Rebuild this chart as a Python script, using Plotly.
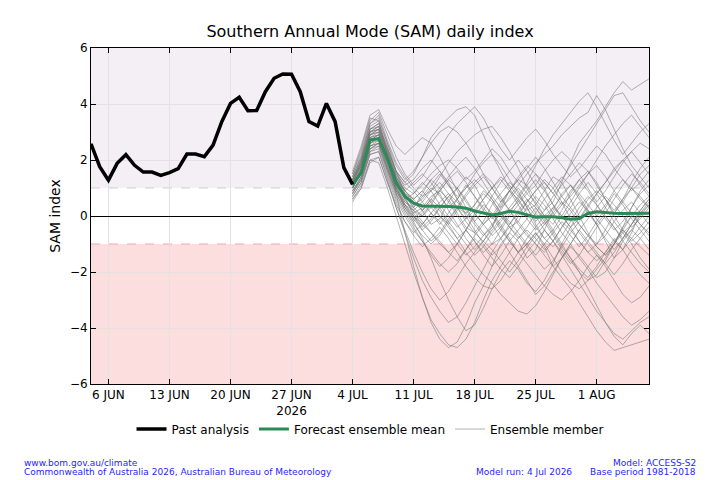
import pandas as pd
import plotly.graph_objects as go

# ---------------- data ----------------
past_start = "2026-06-04"
past_values = [2.58, 1.76, 1.28, 1.88, 2.19, 1.81, 1.57, 1.57, 1.45, 1.55, 1.69,
               2.21, 2.21, 2.12, 2.53, 3.37, 4.02, 4.24, 3.76, 3.77, 4.44, 4.92,
               5.07, 5.06, 4.44, 3.37, 3.21, 4.02, 3.37, 1.73, 1.13]

fc_start = "2026-07-04"
mean_values = [1.12, 1.55, 2.72, 2.76, 2.05, 1.18, 0.70, 0.46, 0.36, 0.36, 0.36,
               0.34, 0.32, 0.28, 0.18, 0.10, 0.04, 0.09, 0.17, 0.13, 0.04, -0.04,
               -0.03, -0.03, -0.06, -0.12, -0.09, 0.09, 0.15, 0.12, 0.10, 0.09,
               0.09, 0.10, 0.10]

member_01 = [1.5, 2.4, 3.5, 3.4, 2.2, 0.8, -0.6, -1.8, -2.9, -3.8, -4.4, -4.7, -4.5, -3.9, -3.1, -2.5, -1.8, -1.0, -0.6, -0.9, -1.5, -1.2, -0.5, 0.2, 0.8, 1.1, 0.7, 0.2, -0.3, -0.9, -1.5, -1.2, -0.6, 0.1, 0.5]
member_02 = [1.2, 1.8, 3.0, 3.2, 2.4, 1.6, 1.2, 1.5, 2.1, 2.8, 3.2, 3.5, 3.8, 3.9, 3.6, 2.9, 2.2, 1.6, 1.0, 0.5, 0.2, 0.4, 0.9, 1.4, 1.2, 0.6, 0.0, -0.6, -1.1, -1.4, -1.0, -0.4, 0.3, 0.9, 1.3]
member_03 = [0.8, 1.4, 2.5, 2.6, 1.9, 1.0, 0.3, -0.2, -0.8, -1.5, -2.3, -3.0, -3.6, -4.1, -3.9, -3.3, -2.6, -2.0, -1.6, -1.9, -2.4, -2.7, -2.3, -1.7, -1.0, -0.4, 0.1, 0.6, 0.9, 0.6, 0.0, -0.5, -0.9, -0.6, -0.2]
member_04 = [1.0, 1.7, 2.8, 3.0, 2.1, 1.3, 0.7, 0.4, 0.6, 1.0, 0.8, 0.2, -0.3, -0.8, -1.2, -0.9, -0.4, 0.3, 0.9, 1.3, 1.1, 0.6, 0.2, 0.5, 1.2, 1.9, 2.6, 3.0, 3.4, 3.9, 4.4, 4.8, 4.5, 4.7, 4.9]
member_05 = [1.3, 2.0, 3.1, 3.3, 2.5, 1.5, 0.9, 0.6, 0.2, -0.3, -0.1, 0.5, 1.0, 1.4, 1.1, 0.5, 0.0, -0.5, -0.9, -1.3, -1.0, -0.6, -1.1, -1.8, -2.2, -2.6, -3.1, -3.6, -4.1, -4.5, -4.8, -4.7, -4.6, -4.5, -4.4]
member_06 = [1.1, 1.5, 2.6, 2.7, 1.8, 0.9, 0.4, 0.1, 0.3, 0.7, 0.9, 0.6, 0.1, -0.4, -0.6, -0.2, 0.4, 0.8, 1.2, 0.9, 0.3, -0.3, -0.8, -1.1, -0.7, -0.2, 0.3, 0.7, 0.4, -0.1, -0.5, -0.2, 0.3, 0.8, 1.1]
member_07 = [1.4, 2.2, 3.3, 3.6, 2.7, 1.9, 1.4, 1.0, 0.7, 0.9, 1.4, 1.9, 2.3, 2.6, 2.9, 3.1, 3.2, 2.8, 2.3, 1.7, 1.0, 0.4, 0.0, -0.3, 0.2, 0.8, 1.3, 1.6, 1.2, 0.6, 0.2, 0.6, 1.2, 1.7, 2.1]
member_08 = [0.9, 1.3, 2.3, 2.5, 1.6, 0.8, 0.2, -0.2, 0.1, 0.4, 0.2, -0.3, -0.8, -1.3, -1.7, -2.1, -2.4, -2.8, -3.1, -3.4, -3.5, -3.2, -2.7, -2.1, -1.5, -1.1, -1.4, -1.8, -2.2, -2.0, -1.5, -0.9, -0.5, -0.8, -1.2]
member_09 = [1.2, 1.9, 2.9, 3.1, 2.3, 1.4, 0.7, 0.0, -0.5, -0.9, -0.6, -0.1, 0.3, 0.1, -0.3, -0.7, -0.4, 0.2, 0.7, 1.1, 1.5, 1.9, 2.2, 2.5, 2.9, 3.2, 3.5, 3.7, 4.3, 3.8, 3.1, 2.4, 1.8, 1.4, 1.0]
member_10 = [0.6, 1.1, 2.0, 1.9, 1.0, 0.0, -1.0, -2.0, -2.9, -3.7, -4.2, -4.6, -4.7, -4.4, -3.8, -3.0, -2.3, -1.8, -1.3, -0.8, -0.5, -0.8, -1.2, -0.9, -0.4, 0.0, -0.3, -0.7, -1.0, -0.7, -0.2, 0.2, 0.5, 0.1, -0.3]
member_11 = [1.0, 1.6, 2.7, 2.8, 2.0, 1.1, 0.5, 0.3, 0.8, 1.3, 1.6, 1.2, 0.6, 0.0, -0.5, -1.0, -1.4, -1.1, -0.6, 0.0, 0.5, 0.9, 1.3, 1.0, 0.5, -0.1, -0.6, -1.0, -1.4, -1.7, -1.3, -0.8, -0.3, 0.1, 0.4]
member_12 = [1.6, 2.5, 3.6, 3.8, 3.1, 2.5, 2.2, 2.5, 2.8, 2.6, 2.1, 1.5, 0.9, 0.3, -0.2, -0.6, -1.0, -0.8, -0.3, 0.2, 0.6, 0.3, -0.2, -0.7, -1.2, -1.6, -2.0, -2.3, -2.1, -1.6, -1.0, -0.4, 0.0, -0.3, -0.7]
member_13 = [0.7, 1.2, 2.2, 2.3, 1.4, 0.5, -0.2, -0.7, -1.1, -0.8, -0.4, -0.8, -1.3, -1.8, -2.2, -2.5, -2.6, -2.3, -1.8, -1.3, -0.8, -0.4, 0.0, 0.3, 0.0, -0.4, -0.9, -1.3, -1.0, -0.5, 0.1, 0.6, 1.0, 0.7, 0.3]
member_14 = [1.3, 1.9, 3.0, 3.2, 2.4, 1.6, 1.0, 0.8, 1.1, 1.5, 1.8, 2.0, 1.7, 1.3, 1.6, 2.0, 2.4, 2.1, 1.6, 1.2, 0.8, 1.1, 1.6, 2.0, 2.3, 2.0, 1.5, 1.0, 0.5, 0.9, 1.4, 1.9, 2.3, 2.6, 2.4]
member_15 = [1.0, 1.5, 2.4, 2.6, 1.7, 0.9, 0.3, 0.0, -0.3, 0.1, 0.5, 0.8, 0.5, 0.1, 0.4, 0.9, 0.6, 0.1, -0.4, -0.2, 0.3, 0.7, 0.4, -0.1, -0.6, -1.0, -1.5, -1.9, -2.4, -2.8, -3.2, -3.6, -3.9, -3.7, -3.4]
member_16 = [1.1, 1.7, 2.8, 2.9, 2.0, 1.2, 0.8, 0.6, 0.9, 0.5, 0.0, -0.3, 0.2, 0.7, 1.1, 1.4, 1.0, 0.5, 0.9, 1.4, 1.8, 1.5, 1.0, 0.4, -0.1, 0.3, 0.8, 1.2, 0.8, 0.3, -0.2, -0.6, -0.3, 0.2, 0.6]
member_17 = [1.2, 1.8, 2.9, 3.0, 2.2, 1.3, 0.6, 0.1, -0.3, -0.6, -0.9, -1.3, -1.0, -0.5, 0.1, 0.6, 1.0, 1.4, 1.1, 0.7, 1.2, 1.8, 2.4, 2.9, 3.3, 3.7, 4.1, 4.4, 3.9, 3.3, 2.7, 2.2, 2.6, 3.0, 3.3]
member_18 = [0.9, 1.4, 2.5, 2.7, 1.8, 1.0, 0.4, 0.2, -0.2, -0.6, -1.0, -1.3, -1.6, -1.2, -0.7, -0.3, 0.1, -0.3, -0.8, -1.3, -1.7, -2.1, -2.5, -2.8, -3.0, -2.7, -2.3, -1.8, -1.4, -1.8, -2.3, -2.8, -3.1, -2.9, -2.5]
member_19 = [1.4, 2.1, 3.2, 3.4, 2.6, 1.8, 1.3, 1.6, 2.1, 2.6, 3.0, 3.2, 3.0, 2.6, 2.1, 1.5, 1.0, 0.6, 0.2, 0.5, 0.9, 1.3, 0.9, 0.4, 0.0, -0.4, -0.1, 0.4, 0.8, 1.2, 1.7, 2.0, 1.6, 1.1, 0.7]
member_20 = [0.8, 1.3, 2.3, 2.4, 1.5, 0.6, 0.0, -0.5, -0.9, -1.3, -1.7, -2.0, -1.7, -1.2, -0.8, -1.1, -1.5, -1.9, -2.2, -1.8, -1.3, -0.9, -0.5, -0.9, -1.4, -1.9, -2.4, -2.9, -3.4, -3.8, -4.2, -4.4, -4.1, -3.8, -3.6]
member_21 = [1.1, 1.6, 2.6, 2.8, 1.9, 1.0, 0.5, 0.2, 0.5, 0.9, 1.2, 0.8, 0.3, -0.1, 0.2, 0.6, 1.0, 1.3, 0.9, 0.4, -0.1, -0.5, -0.2, 0.3, 0.7, 1.1, 0.8, 0.4, 0.0, 0.4, 0.9, 1.3, 1.0, 0.6, 0.3]
member_22 = [1.3, 2.0, 3.1, 3.2, 2.3, 1.4, 0.8, 0.5, 0.2, 0.5, 0.9, 1.3, 1.6, 1.2, 0.7, 0.2, -0.3, -0.8, -1.3, -1.8, -2.3, -2.8, -2.5, -2.0, -1.5, -1.0, -0.5, -0.1, 0.3, 0.7, 0.4, 0.0, -0.4, -0.1, 0.3]
member_23 = [1.0, 1.6, 2.6, 2.8, 2.0, 1.1, 0.4, -0.1, -0.5, -0.2, 0.3, 0.7, 1.0, 0.6, 0.1, -0.3, 0.0, 0.5, 0.9, 0.6, 0.1, -0.4, -0.8, -0.5, 0.0, 0.5, 1.0, 1.5, 2.0, 2.5, 2.9, 3.3, 3.6, 3.2, 2.8]
member_24 = [0.5, 1.0, 1.9, 2.1, 1.2, 0.3, -0.5, -1.3, -2.0, -2.6, -3.0, -2.7, -2.2, -1.7, -1.3, -0.9, -0.5, -0.1, 0.3, 0.7, 0.4, 0.0, -0.5, -0.9, -1.3, -1.7, -1.4, -0.9, -0.4, 0.0, -0.4, -0.9, -1.3, -1.7, -2.0]
member_25 = [1.2, 1.8, 2.9, 3.1, 2.2, 1.4, 0.9, 0.6, 0.9, 1.3, 1.0, 0.5, 0.0, -0.5, -0.9, -1.3, -1.0, -0.5, 0.0, 0.4, 0.8, 0.5, 0.0, -0.5, -1.0, -1.5, -2.0, -2.6, -3.2, -3.8, -4.3, -4.6, -4.2, -3.9, -4.2]
member_26 = [1.5, 2.3, 3.4, 3.7, 2.9, 2.1, 1.5, 1.1, 1.4, 1.9, 2.4, 2.9, 3.3, 3.6, 3.9, 3.5, 2.9, 2.4, 2.0, 2.4, 2.8, 3.1, 2.7, 2.2, 1.8, 1.4, 1.7, 2.1, 2.5, 2.2, 1.7, 1.3, 0.9, 1.2, 1.6]
member_27 = [0.7, 1.2, 2.2, 2.3, 1.3, 0.3, -0.6, -1.5, -2.3, -2.9, -3.4, -3.8, -3.6, -3.1, -2.5, -1.9, -1.3, -0.8, -0.4, -0.7, -1.1, -1.5, -1.9, -1.6, -1.1, -0.6, -0.2, 0.2, -0.1, -0.5, -0.9, -1.2, -0.8, -0.4, 0.0]
member_28 = [1.0, 1.6, 2.7, 2.9, 2.1, 1.3, 0.9, 1.2, 1.5, 1.2, 0.7, 0.3, 0.6, 1.0, 1.3, 1.0, 0.6, 0.1, -0.3, 0.1, 0.5, 0.9, 1.2, 0.8, 0.4, 0.7, 1.1, 1.5, 1.8, 1.4, 0.9, 0.5, 0.1, -0.3, -0.6]
member_29 = [1.1, 1.7, 2.7, 2.9, 2.0, 1.2, 0.6, 0.2, 0.0, 0.3, 0.0, -0.4, -0.8, -0.5, 0.0, 0.4, 0.1, -0.4, -0.9, -1.3, -1.0, -0.6, -1.0, -1.5, -2.0, -2.4, -2.6, -2.3, -1.9, -1.5, -1.0, -0.6, -1.0, -1.5, -1.9]
member_30 = [1.3, 1.9, 3.0, 3.1, 2.2, 1.3, 0.7, 0.3, 0.0, 0.4, 0.9, 1.3, 1.0, 0.5, 0.1, -0.3, -0.7, -0.4, 0.1, 0.6, 1.1, 1.5, 1.2, 0.8, 1.3, 1.8, 2.3, 2.8, 3.3, 3.8, 4.3, 4.4, 3.9, 3.4, 3.0]
member_31 = [1.0, 1.5, 2.5, 2.6, 1.7, 0.8, 0.2, -0.3, -0.7, -1.0, -0.7, -0.2, 0.3, 0.8, 1.2, 1.5, 1.2, 0.7, 0.2, -0.3, -0.7, -1.0, -1.3, -0.9, -0.4, 0.1, 0.5, 0.2, -0.3, -0.8, -1.2, -0.8, -0.3, 0.2, 0.6]
member_32 = [1.2, 1.9, 3.0, 3.1, 2.3, 1.5, 1.1, 1.3, 1.7, 2.0, 1.6, 1.1, 0.7, 1.0, 1.5, 1.9, 2.2, 1.8, 1.3, 0.8, 0.3, -0.2, 0.2, 0.7, 1.1, 1.5, 1.9, 1.6, 1.1, 0.6, 0.1, 0.5, 1.0, 1.5, 1.8]
member_33 = [0.8, 1.3, 2.4, 2.5, 1.6, 0.7, 0.1, -0.4, -0.9, -1.4, -1.8, -1.5, -1.0, -0.5, -0.9, -1.4, -1.8, -1.4, -0.9, -0.5, -0.1, 0.3, -0.1, -0.6, -1.1, -1.5, -1.9, -2.2, -1.8, -1.3, -0.8, -1.2, -1.7, -2.1, -2.4]
member_34 = [1.1, 1.7, 2.8, 2.9, 2.1, 1.2, 0.6, 0.8, 1.2, 0.9, 0.4, 0.0, -0.4, -0.1, 0.4, 0.8, 0.5, 0.0, -0.4, -0.8, -0.4, 0.1, 0.6, 1.0, 1.4, 1.1, 0.6, 0.1, -0.3, 0.1, 0.6, 1.1, 1.5, 1.2, 0.8]
member_35 = [1.4, 2.1, 3.3, 3.5, 2.6, 1.6, 0.8, 0.3, 0.7, 1.1, 1.5, 1.1, 0.6, 0.2, -0.2, 0.2, 0.7, 1.2, 1.6, 2.0, 1.6, 1.1, 0.6, 0.1, -0.3, -0.7, -1.1, -0.7, -0.2, 0.3, 0.8, 0.4, -0.1, -0.5, -0.9]
member_36 = [0.9, 1.4, 2.4, 2.6, 1.7, 0.9, 0.3, -0.1, 0.2, 0.6, 0.3, -0.2, -0.6, -1.0, -1.4, -1.1, -0.6, -0.2, 0.2, -0.2, -0.6, -1.0, -1.4, -1.8, -1.5, -1.0, -0.5, -0.9, -1.3, -1.7, -2.1, -1.7, -1.2, -0.8, -0.4]
member_37 = [1.3, 2.0, 3.1, 3.3, 2.4, 1.6, 1.2, 0.9, 0.5, 0.1, -0.3, 0.1, 0.6, 1.1, 0.7, 0.3, -0.1, 0.4, 0.9, 1.3, 1.7, 2.1, 1.7, 1.2, 0.7, 0.3, -0.1, 0.3, 0.8, 1.2, 1.6, 2.0, 2.3, 1.9, 1.5]
member_38 = [1.0, 1.6, 2.6, 2.8, 1.9, 1.0, 0.4, 0.0, -0.4, -0.1, 0.3, 0.7, 0.3, -0.2, -0.6, -0.9, -1.2, -1.6, -2.0, -1.6, -1.1, -0.7, -0.3, 0.1, 0.5, 0.2, -0.3, -0.7, -1.1, -1.4, -1.0, -0.5, 0.0, 0.4, 0.7]
member_39 = [1.2, 1.8, 2.9, 3.0, 2.2, 1.4, 0.9, 0.5, 0.2, 0.6, 1.0, 1.4, 1.8, 2.1, 1.7, 1.2, 0.7, 0.3, 0.6, 1.0, 0.6, 0.1, -0.3, 0.0, 0.4, 0.9, 1.3, 0.9, 0.4, 0.0, -0.4, -0.8, -0.5, 0.0, 0.4]
member_40 = [0.6, 1.0, 2.0, 2.1, 1.2, 0.4, -0.2, -0.6, -0.3, 0.1, -0.2, -0.6, -1.0, -1.4, -1.1, -0.7, -0.3, 0.1, -0.2, -0.6, -1.0, -1.4, -1.0, -0.6, -0.2, -0.5, -0.9, -1.3, -1.6, -1.3, -0.9, -0.5, -0.8, -1.1, -1.4]

members = [member_01, member_02, member_03, member_04, member_05, member_06,
           member_07, member_08, member_09, member_10, member_11, member_12,
           member_13, member_14, member_15, member_16, member_17, member_18,
           member_19, member_20, member_21, member_22, member_23, member_24,
           member_25, member_26, member_27, member_28, member_29, member_30,
           member_31, member_32, member_33, member_34, member_35, member_36,
           member_37, member_38, member_39, member_40]

tick_dates = ["2026-06-06", "2026-06-13", "2026-06-20", "2026-06-27", "2026-07-04",
              "2026-07-11", "2026-07-18", "2026-07-25", "2026-08-01"]
tick_labels = ["6 JUN", "13 JUN", "20 JUN", "27 JUN<br>2026", "4 JUL",
               "11 JUL", "18 JUL", "25 JUL", "1 AUG"]
y_ticks = [-6, -4, -2, 0, 2, 4, 6]

# ---------------- figure ----------------
FONT = "DejaVu Sans, sans-serif"
past_dates = pd.date_range(past_start, periods=len(past_values), freq="D")
fc_dates = pd.date_range(fc_start, periods=len(mean_values), freq="D")

fig = go.Figure()

for i, m in enumerate(members):
    fig.add_trace(go.Scatter(
        x=fc_dates[:len(m)], y=m, mode="lines",
        line=dict(color="rgba(115,115,115,0.55)", width=1),
        name="Ensemble member", legendgroup="members",
        showlegend=(i == 0), legendrank=3, hoverinfo="skip"))

fig.add_trace(go.Scatter(
    x=fc_dates, y=mean_values, mode="lines",
    line=dict(color="#2b8a57", width=3),
    name="Forecast ensemble mean", legendrank=2))

fig.add_trace(go.Scatter(
    x=past_dates, y=past_values, mode="lines",
    line=dict(color="black", width=3.5),
    name="Past analysis", legendrank=1))

x0, x1 = "2026-06-04", "2026-08-07"
fig.add_shape(type="rect", xref="x", yref="y", x0=x0, x1=x1, y0=1, y1=6,
              fillcolor="#f4eef5", line_width=0, layer="below")
fig.add_shape(type="rect", xref="x", yref="y", x0=x0, x1=x1, y0=-6, y1=-1,
              fillcolor="#fcdede", line_width=0, layer="below")
fig.add_shape(type="line", xref="x", yref="y", x0=x0, x1=x1, y0=1, y1=1,
              line=dict(color="#cfcfcf", width=1, dash="dash"), layer="below")
fig.add_shape(type="line", xref="x", yref="y", x0=x0, x1=x1, y0=-1, y1=-1,
              line=dict(color="#f4a6b0", width=1, dash="dash"), layer="below")

foot = dict(color="#1f1fff", size=9, family=FONT)
annots = [
    dict(text="www.bom.gov.au/climate", x=-0.123, y=-0.235, xanchor="left"),
    dict(text="Commonwealth of Australia 2026, Australian Bureau of Meteorology",
         x=-0.123, y=-0.262, xanchor="left"),
    dict(text="Model: ACCESS-S2", x=1.0878, y=-0.235, xanchor="right"),
    dict(text="Base period 1981-2018", x=1.0878, y=-0.262, xanchor="right"),
    dict(text="Model run: 4 Jul 2026", x=0.8657, y=-0.262, xanchor="right"),
]
for a in annots:
    fig.add_annotation(xref="paper", yref="paper", yanchor="middle",
                       showarrow=False, font=foot, **a)

axis_common = dict(showline=True, linecolor="black", linewidth=1, mirror="ticks",
                   ticks="inside", ticklen=5, tickcolor="black",
                   showgrid=True, gridcolor="#e2e2e2", gridwidth=1,
                   tickfont=dict(size=12, color="black", family=FONT))

fig.update_xaxes(type="date", range=[x0, x1], tickvals=tick_dates,
                 ticktext=tick_labels, **axis_common)
fig.update_yaxes(range=[-6, 6], tickvals=y_ticks, zeroline=True,
                 zerolinecolor="black", zerolinewidth=1,
                 title=dict(text="SAM index", font=dict(size=14, family=FONT, color="black"),
                            standoff=5),
                 **axis_common)

fig.update_layout(
    width=720, height=480,
    margin=dict(l=91, r=71, t=48, b=96),
    paper_bgcolor="white", plot_bgcolor="white",
    font=dict(family=FONT, color="black"),
    title=dict(text="Southern Annual Mode (SAM) daily index", x=0.5, xref="paper",
               y=1 - 31 / 480, yref="container", xanchor="center", yanchor="middle",
               font=dict(size=16, family=FONT, color="black")),
    legend=dict(orientation="h", x=0.5, xanchor="center", y=-0.134, yanchor="middle",
                font=dict(size=12, family=FONT, color="black"),
                bgcolor="rgba(0,0,0,0)"),
    showlegend=True,
)

fig.write_html("out.html")
